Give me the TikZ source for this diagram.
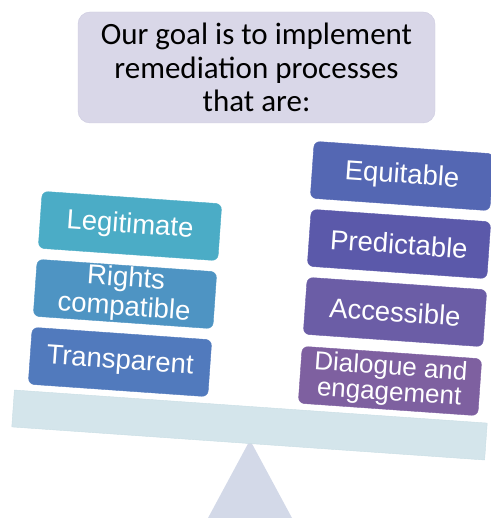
\documentclass[tikz,border=0pt]{standalone}
\usepackage{fontspec}
\setmainfont{Carlito}
\newfontfamily\arialfont{Liberation Sans}
\usetikzlibrary{positioning}

\definecolor{goalfill}{HTML}{D9D7E8}
\definecolor{goalline}{HTML}{CDCBE0}
\definecolor{beamfill}{HTML}{D4E5EB}
\definecolor{beamline}{HTML}{C9DDE4}
\definecolor{fulcrumfill}{HTML}{D3D9E8}
\definecolor{legitc}{HTML}{4BACC6}
\definecolor{rightsc}{HTML}{4E94C3}
\definecolor{transc}{HTML}{517ABD}
\definecolor{equitc}{HTML}{5467B3}
\definecolor{predictc}{HTML}{5B59AA}
\definecolor{accessc}{HTML}{6B5DA6}
\definecolor{dialogc}{HTML}{7E60A0}

\begin{document}
\begin{tikzpicture}[
    x=1pt,
    y=1pt,
    pill/.style={
        rounded corners=6pt,
        minimum width=180pt,
        minimum height=57pt,
        inner sep=0pt,
        rotate=-4,
        text=white,
        align=center,
        font=\arialfont\fontsize{27.5}{29}\selectfont,
    },
]
    \useasboundingbox (0,0) rectangle (490,-518);

    % fulcrum and beam
    \fill[fulcrumfill] (250,-440) -- (208,-518) -- (292,-518) -- cycle;
    \node[fill=beamfill, draw=beamline, minimum width=474pt, minimum height=37pt,
          rotate=-4, inner sep=0pt] (beam) at (249.5,-425) {};

    % goal
    \node[fill=goalfill, draw=goalline, rounded corners=12pt,
          minimum width=357pt, minimum height=111pt, align=center,
          font=\fontsize{31}{33.5}\selectfont] (goal) at (256.5,-67.5)
          {Our goal is to implement\\remediation processes\\that are:};

    % left pan
    \node[pill, fill=legitc, draw=legitc] (legit)  at (130,-226) {Legitimate};
    \node[pill, fill=rightsc, draw=rightsc] (rights) at (125,-294) {Rights\\compatible};
    \node[pill, fill=transc, draw=transc] (trans)  at (120,-362) {Transparent};

    % right pan
    \node[pill, fill=equitc, draw=equitc] (equit)   at (402,-176) {Equitable};
    \node[pill, fill=predictc, draw=predictc] (predict) at (399,-244) {Predictable};
    \node[pill, fill=accessc, draw=accessc] (access)  at (395,-312) {Accessible};
    \node[pill, fill=dialogc, draw=dialogc, font=\arialfont\fontsize{26}{25.5}\selectfont]
          (dialog) at (390,-381) {Dialogue and\\engagement};
\end{tikzpicture}
\end{document}
